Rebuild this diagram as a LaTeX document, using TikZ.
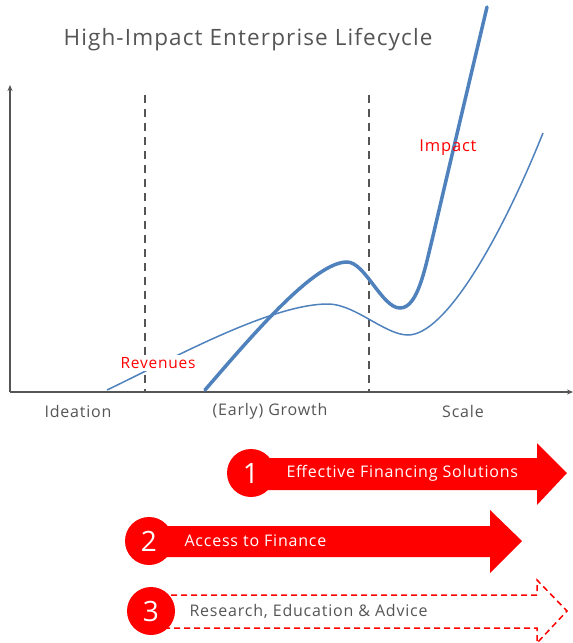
\documentclass[tikz,border=0pt]{standalone}
\usepackage{fontspec}
\setmainfont{Open Sans}[LetterSpace=5]
\usepackage{tikz}
\usetikzlibrary{arrows.meta}

\definecolor{curveblue}{HTML}{4F81BD}
\definecolor{axisgray}{HTML}{555555}
\definecolor{bandred}{HTML}{FF0000}

\tikzset{
  axisline/.style={draw=axisgray, line width=1.5pt, -{Stealth[length=6pt,width=5pt]}},
  phaseline/.style={draw=axisgray, line width=1.5pt, dash pattern=on 8pt off 6pt},
  phasetext/.style={text=axisgray, font=\fontsize{16}{18}\selectfont},
  curvetext/.style={text=bandred, font=\fontsize{15.5}{17}\selectfont},
  bandnum/.style={circle, fill=bandred, minimum size=48pt, inner sep=0pt,
    text=white, font=\fontsize{28}{30}\selectfont},
  bandtext/.style={anchor=west, font=\fontsize{16}{18}\selectfont},
}

\begin{document}
\begin{tikzpicture}[x=1pt, y=-1pt]
            \useasboundingbox (0,0) rectangle (573,643);

            % axes and phase borders
            \coordinate (o) at (10,392);
            \coordinate (ytop) at (10,85);
            \coordinate (xend) at (573,392);
            \coordinate (d1top) at (145,95);
            \coordinate (d1bot) at (145,392);
            \coordinate (d2top) at (369,95);
            \coordinate (d2bot) at (369,392);

            \draw[axisline] (o) -- (ytop);
            \draw[axisline] (o) -- (xend);
            \draw[phaseline] (d1top) -- (d1bot);
            \draw[phaseline] (d2top) -- (d2bot);

            \node[text=axisgray, font=\fontsize{22.5}{26}\selectfont] (title) at (248,40) {High-Impact Enterprise Lifecycle};

            \node[phasetext] (ideation) at (78,411) {Ideation};
            \node[phasetext] (growth) at (270,411) {(Early) Growth};
            \node[phasetext] (scale) at (463,411) {Scale};

            % revenue curve
            \draw[curveblue, line width=1.5pt]
              (107,390) .. controls (170,360) and (270,304) .. (328,304)
              .. controls (355,304) and (385,335) .. (408,335)
              .. controls (445,335) and (500,240) .. (543,133);
            % impact curve
            \draw[curveblue, line width=3.5pt, line cap=round]
              (205,390) .. controls (255,332) and (315,262) .. (347,262)
              .. controls (365,262) and (382,308) .. (400,308)
              .. controls (418,308) and (425,268) .. (433,236)
              .. controls (446,180) and (474,62) .. (487,7);

            \node[curvetext, fill=white, inner sep=2pt] (revenues) at (158,363) {Revenues};
            \node[curvetext, font=\fontsize{16.5}{18}\selectfont] (impact) at (448,148) {Impact};

            % band 1
            \coordinate (a1) at (251,473);
            \fill[bandred] (251,458) -- (537,458) -- (537,443) -- (567,473)
              -- (537,505) -- (537,490) -- (251,490) -- cycle;
            \node[bandnum] (n1) at (a1) {1};
            \node[bandtext, text=white] (t1) at (283,473) {Effective Financing Solutions};

            % band 2
            \coordinate (a2) at (149,541);
            \fill[bandred] (149,526) -- (490,526) -- (490,510) -- (522,541)
              -- (490,573) -- (490,557) -- (149,557) -- cycle;
            \node[bandnum] (n2) at (a2) {2};
            \node[bandtext, text=white] (t2) at (181,541) {Access to Finance};

            % band 3
            \coordinate (a3) at (151,611);
            \draw[bandred, line width=1.5pt, dash pattern=on 6pt off 4pt]
              (151,595) -- (537,595) -- (537,580) -- (567,611)
              -- (537,643) -- (537,628) -- (151,628) -- cycle;
            \node[bandnum] (n3) at (a3) {3};
            \node[bandtext, text=axisgray] (t3) at (186,611) {Research, Education \& Advice};

            \end{tikzpicture}
\end{document}
